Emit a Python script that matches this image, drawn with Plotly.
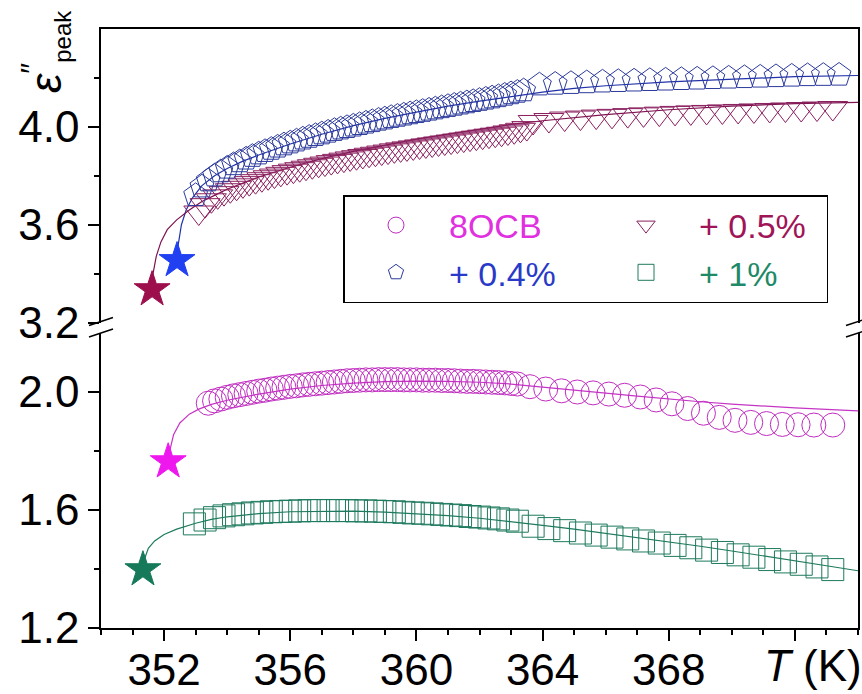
import plotly.graph_objects as go

# ---------------- data ----------------
# 8OCB (circles, bottom panel)
T_8ocb = [353.4, 353.6, 353.8, 354.0, 354.2, 354.4, 354.6, 354.8, 355.0, 355.2,
          355.4, 355.6, 355.8, 356.0, 356.2, 356.4, 356.6, 356.8, 357.0, 357.2,
          357.4, 357.6, 357.8, 358.0, 358.2, 358.4, 358.6, 358.8, 359.0, 359.2,
          359.4, 359.6, 359.8, 360.0, 360.2, 360.4, 360.6, 360.8, 361.0, 361.2,
          361.4, 361.6, 361.8, 362.0, 362.2, 362.4, 362.6, 362.8, 363.0, 363.2,
          363.6, 364.1, 364.6, 365.1, 365.6, 366.1, 366.6, 367.1, 367.6, 368.1,
          368.6, 369.1, 369.6, 370.1, 370.6, 371.1, 371.6, 372.1, 372.6, 373.2]
E_8ocb = [1.962, 1.970, 1.976, 1.982, 1.987, 1.991, 1.995, 1.999, 2.003, 2.006,
          2.010, 2.013, 2.016, 2.019, 2.021, 2.024, 2.026, 2.028, 2.030, 2.032,
          2.034, 2.036, 2.038, 2.039, 2.040, 2.041, 2.041, 2.042, 2.042, 2.042,
          2.042, 2.041, 2.041, 2.041, 2.040, 2.040, 2.040, 2.039, 2.039, 2.038,
          2.037, 2.036, 2.036, 2.035, 2.034, 2.033, 2.032, 2.031, 2.029, 2.027,
          2.018, 2.010, 2.004, 2.000, 1.997, 1.993, 1.989, 1.983, 1.973, 1.960,
          1.944, 1.928, 1.914, 1.904, 1.897, 1.893, 1.890, 1.889, 1.888, 1.888]
star_8ocb = (352.13, 1.764)
fitT_8ocb = [352.13, 352.2, 352.3, 352.5, 352.8, 353.1, 353.5, 354.0, 355.0, 356.0,
             357.0, 358.0, 359.0, 360.0, 361.0, 362.0, 363.0, 364.0, 365.0, 366.0,
             367.0, 368.0, 369.0, 370.0, 371.0, 372.0, 373.0, 374.0]
fitE_8ocb = [1.764, 1.810, 1.855, 1.895, 1.925, 1.942, 1.958, 1.972, 1.993, 2.010,
             2.022, 2.030, 2.035, 2.037, 2.036, 2.033, 2.027, 2.016, 2.006, 1.996,
             1.986, 1.976, 1.967, 1.959, 1.952, 1.946, 1.941, 1.936]

# + 1% (squares, bottom panel)
T_1 = [352.96, 353.3, 353.6, 353.9, 354.2, 354.5, 354.8, 355.1, 355.4, 355.7,
       356.0, 356.3, 356.6, 356.9, 357.2, 357.5, 357.8, 358.1, 358.4, 358.7,
       359.0, 359.3, 359.6, 359.9, 360.2, 360.5, 360.8, 361.1, 361.4, 361.7,
       362.0, 362.3, 362.6, 362.9, 363.2, 363.7, 364.2, 364.7, 365.2, 365.7,
       366.2, 366.7, 367.2, 367.7, 368.2, 368.7, 369.2, 369.7, 370.2, 370.7,
       371.2, 371.7, 372.2, 372.7, 373.2]
E_1 = [1.553, 1.566, 1.574, 1.580, 1.584, 1.587, 1.590, 1.592, 1.594, 1.595,
       1.596, 1.597, 1.598, 1.598, 1.598, 1.598, 1.598, 1.597, 1.597, 1.596,
       1.595, 1.594, 1.592, 1.590, 1.589, 1.587, 1.585, 1.583, 1.581, 1.578,
       1.576, 1.573, 1.570, 1.566, 1.562, 1.545, 1.537, 1.530, 1.522, 1.515,
       1.508, 1.502, 1.495, 1.488, 1.480, 1.472, 1.464, 1.456, 1.448, 1.440,
       1.432, 1.424, 1.416, 1.407, 1.398]
star_1 = (351.33, 1.398)
fitT_1 = [351.33, 351.4, 351.5, 351.7, 352.0, 352.4, 353.0, 353.5, 354.0, 355.0,
          356.0, 357.0, 358.0, 359.0, 360.0, 361.0, 362.0, 363.0, 364.0, 365.0,
          366.0, 367.0, 368.0, 369.0, 370.0, 371.0, 372.0, 373.0, 374.0]
fitE_1 = [1.398, 1.440, 1.470, 1.495, 1.517, 1.535, 1.555, 1.568, 1.577, 1.588,
          1.594, 1.596, 1.596, 1.593, 1.588, 1.581, 1.572, 1.561, 1.548, 1.535,
          1.521, 1.507, 1.492, 1.477, 1.461, 1.445, 1.428, 1.411, 1.394]

# + 0.4% (pentagons, top panel)
T_04 = [353.0, 353.2, 353.4, 353.6, 353.8, 354.0, 354.2, 354.4, 354.6, 354.8,
        355.0, 355.2, 355.4, 355.6, 355.8, 356.0, 356.2, 356.4, 356.6, 356.8,
        357.0, 357.2, 357.4, 357.6, 357.8, 358.0, 358.2, 358.4, 358.6, 358.8,
        359.0, 359.2, 359.4, 359.6, 359.8, 360.0, 360.2, 360.4, 360.6, 360.8,
        361.0, 361.2, 361.4, 361.6, 361.8, 362.0, 362.2, 362.4, 362.6, 362.8,
        363.0, 363.2, 363.4, 363.9, 364.4, 364.9, 365.4, 365.9, 366.4, 366.9,
        367.4, 367.9, 368.4, 368.9, 369.4, 369.9, 370.4, 370.9, 371.4, 371.9,
        372.4, 372.9, 373.4]
E_04 = [3.720, 3.755, 3.780, 3.800, 3.817, 3.832, 3.846, 3.858, 3.869, 3.880,
        3.890, 3.900, 3.909, 3.918, 3.927, 3.935, 3.943, 3.951, 3.958, 3.965,
        3.972, 3.979, 3.986, 3.992, 3.998, 4.004, 4.010, 4.016, 4.022, 4.028,
        4.033, 4.039, 4.044, 4.049, 4.054, 4.059, 4.064, 4.069, 4.074, 4.079,
        4.084, 4.089, 4.094, 4.099, 4.104, 4.109, 4.114, 4.119, 4.124, 4.130,
        4.136, 4.142, 4.148, 4.172, 4.175, 4.178, 4.181, 4.184, 4.186, 4.188,
        4.190, 4.192, 4.194, 4.196, 4.198, 4.200, 4.202, 4.204, 4.206, 4.208,
        4.210, 4.211, 4.212]
star_04 = (352.41, 3.454)
fitT_04 = [352.41, 352.45, 352.55, 352.7, 352.9, 353.2, 353.6, 354.0, 354.5, 355.0,
           356.0, 357.0, 358.0, 359.0, 360.0, 361.0, 362.0, 363.0, 364.0, 365.0,
           366.0, 368.0, 370.0, 372.0, 374.0]
fitE_04 = [3.454, 3.520, 3.600, 3.660, 3.710, 3.760, 3.800, 3.830, 3.860, 3.885,
           3.930, 3.970, 4.005, 4.035, 4.060, 4.085, 4.105, 4.125, 4.142, 4.157,
           4.168, 4.184, 4.196, 4.205, 4.210]

# + 0.5% (down triangles, top panel)
T_05 = [353.1, 353.3, 353.5, 353.7, 353.9, 354.1, 354.3, 354.5, 354.7, 354.9,
        355.1, 355.3, 355.5, 355.7, 355.9, 356.1, 356.3, 356.5, 356.7, 356.9,
        357.1, 357.3, 357.5, 357.7, 357.9, 358.1, 358.3, 358.5, 358.7, 358.9,
        359.1, 359.3, 359.5, 359.7, 359.9, 360.1, 360.3, 360.5, 360.7, 360.9,
        361.1, 361.3, 361.5, 361.7, 361.9, 362.1, 362.3, 362.5, 362.7, 362.9,
        363.1, 363.3, 363.5, 363.7, 364.2, 364.7, 365.2, 365.7, 366.2, 366.7,
        367.2, 367.7, 368.2, 368.7, 369.2, 369.7, 370.2, 370.7, 371.2, 371.7,
        372.2, 372.7, 373.2]
E_05 = [3.650, 3.680, 3.700, 3.716, 3.729, 3.741, 3.751, 3.761, 3.770, 3.778,
        3.786, 3.794, 3.801, 3.808, 3.815, 3.821, 3.827, 3.833, 3.839, 3.845,
        3.850, 3.856, 3.861, 3.866, 3.871, 3.876, 3.881, 3.886, 3.890, 3.895,
        3.899, 3.904, 3.908, 3.912, 3.916, 3.920, 3.924, 3.928, 3.932, 3.936,
        3.940, 3.944, 3.948, 3.952, 3.956, 3.960, 3.964, 3.968, 3.972, 3.977,
        3.982, 3.988, 3.995, 4.020, 4.028, 4.034, 4.038, 4.042, 4.045, 4.048,
        4.051, 4.054, 4.057, 4.059, 4.061, 4.063, 4.065, 4.067, 4.069, 4.071,
        4.073, 4.075, 4.077]
star_05 = (351.62, 3.335)
fitT_05 = [351.62, 351.65, 351.75, 351.9, 352.1, 352.4, 352.8, 353.2, 353.6, 354.0,
           354.5, 355.0, 356.0, 357.0, 358.0, 359.0, 360.0, 361.0, 362.0, 363.0,
           364.0, 366.0, 368.0, 370.0, 372.0, 374.0]
fitE_05 = [3.335, 3.400, 3.470, 3.530, 3.580, 3.620, 3.660, 3.695, 3.720, 3.745,
           3.770, 3.795, 3.835, 3.870, 3.900, 3.925, 3.950, 3.970, 3.990, 4.010,
           4.025, 4.050, 4.070, 4.085, 4.095, 4.100]

x_range = [350, 374]
y_bottom_range = [1.2, 2.2]
y_top_range = [3.2, 4.4]

# ---------------- styling ----------------
FONT = "Liberation Sans, Arial, sans-serif"
C_8 = dict(mk="#C02CC0", ln="#C535C5", star="#EE18EE", txt="#E030E0")
C_05 = dict(mk="#8A1F5E", ln="#7E1250", star="#9C0F4C", txt="#A01458")
C_04 = dict(mk="#2C3A9C", ln="#2233A8", star="#2040F2", txt="#2A3AC8")
C_1 = dict(mk="#1E7A5E", ln="#1E7A5E", star="#16795A", txt="#1E8A68")

fig = go.Figure()

def fit_trace(T, E, col, xa, ya):
    fig.add_trace(go.Scatter(x=T, y=E, mode="lines", line=dict(color=col, width=1.2),
                             xaxis=xa, yaxis=ya, showlegend=False, hoverinfo="skip"))

def star_trace(pt, col, xa, ya):
    fig.add_trace(go.Scatter(x=[pt[0]], y=[pt[1]], mode="markers",
                             marker=dict(symbol="star", size=27, color=col,
                                         line=dict(color=col, width=1)),
                             xaxis=xa, yaxis=ya, showlegend=False))

def data_trace(T, E, name, txtcol, sym, col, size, xa, ya, group, lw):
    fig.add_trace(go.Scatter(x=T, y=E, mode="markers", legendgroup=group,
                             legendwidth=lw,
                             name=f"<span style='color:{txtcol}'>{name}</span>",
                             marker=dict(symbol=sym, size=size, color=col,
                                         line=dict(color=col, width=1)),
                             xaxis=xa, yaxis=ya))

# fit lines
fit_trace(fitT_8ocb, fitE_8ocb, C_8["ln"], "x", "y")
fit_trace(fitT_1, fitE_1, C_1["ln"], "x", "y")
fit_trace(fitT_04, fitE_04, C_04["ln"], "x2", "y2")
fit_trace(fitT_05, fitE_05, C_05["ln"], "x2", "y2")

# data markers; legend columns: (8OCB, +0.4%) and (+0.5%, +1%)
data_trace(T_8ocb, E_8ocb, "8OCB", C_8["txt"], "circle-open", C_8["mk"], 24, "x", "y", "c1", 139)
data_trace(T_05, E_05, "+ 0.5%", C_05["txt"], "triangle-down-open", C_05["mk"], 26, "x2", "y2", "c2", 122)
data_trace(T_04, E_04, "+ 0.4%", C_04["txt"], "pentagon-open", C_04["mk"], 25, "x2", "y2", "c1", 139)
data_trace(T_1, E_1, "+ 1%", C_1["txt"], "square-open", C_1["mk"], 22, "x", "y", "c2", 122)

# stars
star_trace(star_8ocb, C_8["star"], "x", "y")
star_trace(star_1, C_1["star"], "x", "y")
star_trace(star_04, C_04["star"], "x2", "y2")
star_trace(star_05, C_05["star"], "x2", "y2")

# ---------------- layout ----------------
L, R, T, B = 101, 4, 29, 66
W, H = 862, 694
pw, ph = W - L - R, H - T - B
bot_top = (628 - 333) / ph
top_bot = (628 - 322.6) / ph

tickfont = dict(size=44, family=FONT, color="black")
common_y = dict(showline=True, linecolor="black", linewidth=1.5, mirror=True,
                ticks="outside", ticklen=11, tickwidth=1.5, tickcolor="black",
                showgrid=False, zeroline=False, tickfont=tickfont, tickformat=".1f",
                automargin=False)

fig.update_layout(
    width=W, height=H,
    margin=dict(l=L, r=R, t=T, b=B, autoexpand=False),
    paper_bgcolor="white", plot_bgcolor="white",
    font=dict(family=FONT, color="black"),
    xaxis=dict(domain=[0, 1], range=x_range, anchor="y", showline=True,
               linecolor="black", linewidth=1.5, mirror=False,
               ticks="outside", ticklen=11, tickwidth=1.5, tickcolor="black",
               tick0=352, dtick=4, labelalias={"372": " "}, ticklabelstandoff=-9,
               minor=dict(dtick=1, tick0=350, ticks="outside", ticklen=5,
                          tickwidth=1.5, tickcolor="black"),
               showgrid=False, zeroline=False, tickfont=tickfont, automargin=False),
    xaxis2=dict(domain=[0, 1], range=x_range, anchor="y2", matches="x", side="top",
                showline=True, linecolor="black", linewidth=1.5, ticks="",
                showticklabels=False, showgrid=False, zeroline=False, automargin=False),
    yaxis=dict(domain=[0, bot_top], range=y_bottom_range, anchor="x",
               tickvals=[1.2, 1.6, 2.0],
               minor=dict(tickvals=[1.4, 1.8], ticks="outside", ticklen=5,
                          tickwidth=1.5, tickcolor="black"),
               **common_y),
    yaxis2=dict(domain=[top_bot, 1], range=y_top_range, anchor="x2",
                tickvals=[3.2, 3.6, 4.0],
                minor=dict(tickvals=[3.4, 3.8, 4.2], ticks="outside", ticklen=5,
                           tickwidth=1.5, tickcolor="black"),
                **common_y),
    legend=dict(orientation="h", x=(343 - L) / pw, y=(628 - 195) / ph,
                xanchor="left", yanchor="top", bordercolor="black", borderwidth=1.5,
                bgcolor="white", font=dict(size=34, family=FONT),
                itemwidth=96, entrywidthmode="pixels",
                traceorder="grouped", tracegroupgap=0),
    showlegend=True,
)

# axis-break marks
def px_x(px):
    return (px - L) / pw

def px_y(py):
    return (628 - py) / ph

shapes = []
for xc in (L, L + pw):
    for yc in (321.5, 333.0):
        shapes.append(dict(type="line", xref="paper", yref="paper",
                           x0=px_x(xc - 12), y0=px_y(yc + 4),
                           x1=px_x(xc + 12), y1=px_y(yc - 4),
                           line=dict(color="black", width=1.5)))
fig.update_layout(shapes=shapes)

# y-axis label and x-axis label
fig.add_annotation(xref="paper", yref="paper", x=px_x(46), y=px_y(52),
                   xanchor="center", yanchor="middle", textangle=-90, showarrow=False,
                   text="<i>ε</i><sup>″</sup><sub><span style='font-size:24px'>peak</span></sub>",
                   font=dict(size=44, family=FONT, color="black"))
fig.add_annotation(xref="paper", yref="paper", x=px_x(813), y=px_y(665),
                   xanchor="center", yanchor="middle", showarrow=False,
                   text="<i>T</i> (K)", font=dict(size=44, family=FONT, color="black"))

fig.write_html("out.html")
